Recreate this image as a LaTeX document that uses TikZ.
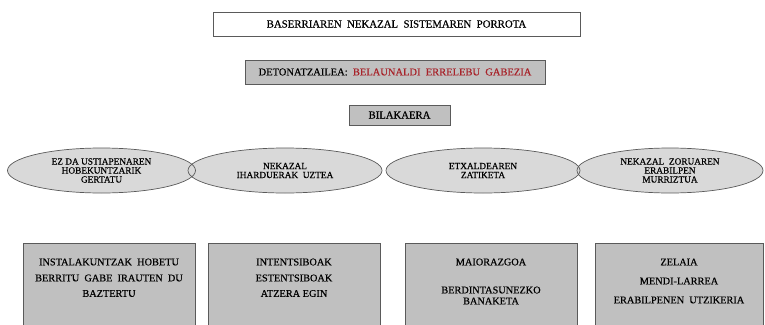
\documentclass[tikz,border=0pt]{standalone}
\usepackage{fontspec}
\setmainfont{Liberation Serif}
\newfontfamily\heavy{Liberation Serif}[FakeBold=0.5]
\usetikzlibrary{shapes.geometric}
\definecolor{boxgray}{HTML}{C0C0C0}
\definecolor{ellgray}{HTML}{D9D9D9}
\definecolor{edgegray}{HTML}{5A5A5A}
\definecolor{detred}{HTML}{A8232A}
\begin{document}
\begin{tikzpicture}[x=1pt,y=-1pt,
  topbox/.style={draw=edgegray,line width=0.8pt,minimum height=24pt,inner sep=0pt,font=\heavy\fontsize{10.8}{12}\selectfont},
  graybox/.style={draw=edgegray,fill=boxgray,line width=0.8pt,inner sep=0pt},
  ell/.style={ellipse,draw=edgegray,line width=0.7pt,inner sep=0pt,align=center,font=\heavy\fontsize{9.3}{9}\selectfont},
  btxt/.style={align=center,font=\heavy\fontsize{10.3}{11}\selectfont,inner sep=0pt}]
\clip (0,0) rectangle (765,324);
\fill[white] (0,0) rectangle (765,324);
% title
\node[topbox,fill=white,minimum width=367pt] (title) at (396.5,24)
  {BASERRIAREN\ \ NEKAZAL\ \ SISTEMAREN\ \ PORROTA};
\node[graybox,minimum width=300pt,minimum height=24pt,font=\heavy\fontsize{10.5}{12}\selectfont] (det) at (395,72)
  {DETONATZAILEA:\ \ \textcolor{detred}{BELAUNALDI\ \ ERRELEBU\ \ GABEZIA}};
\node[graybox,minimum width=101pt,minimum height=20pt,font=\heavy\fontsize{10.7}{12}\selectfont] (bil) at (399.5,115) {BILAKAERA};
% ellipse fills
\fill[ellgray] (101.5,170.5) ellipse [x radius=94, y radius=22.5];
\fill[ellgray] (285,170.5) ellipse [x radius=97, y radius=22.5];
\fill[ellgray] (483,170.5) ellipse [x radius=97, y radius=22.5];
\fill[ellgray] (670,170.5) ellipse [x radius=93, y radius=22.5];
\node[ell,minimum width=188pt,minimum height=45pt] (e1) at (101.5,170.5)
  {EZ DA USTIAPENAREN\\HOBEKUNTZARIK\\GERTATU};
\node[ell,minimum width=194pt,minimum height=45pt] (e2) at (285,170.5)
  {NEKAZAL\\IHARDUERAK\ \ UZTEA};
\node[ell,minimum width=194pt,minimum height=45pt] (e3) at (483,170.5)
  {ETXALDEAREN\\ZATIKETA};
\node[ell,minimum width=186pt,minimum height=45pt] (e4) at (670,170.5)
  {NEKAZAL\ \ ZORUAREN\\ERABILPEN\\MURRIZTUA};
% bottom boxes
\node[graybox,minimum width=172pt,minimum height=84pt,anchor=north west] (b1) at (23,243) {};
\node[graybox,minimum width=172pt,minimum height=84pt,anchor=north west] (b2) at (208,243) {};
\node[graybox,minimum width=172pt,minimum height=84pt,anchor=north west] (b3) at (405,243) {};
\node[graybox,minimum width=168pt,minimum height=84pt,anchor=north west] (b4) at (595,243) {};
\node[btxt] (t1a) at (109,262) {INSTALAKUNTZAK\ \ HOBETU};
\node[btxt] (t1b) at (109,278) {BERRITU\ \ GABE\ \ IRAUTEN\ \ DU};
\node[btxt] (t1c) at (109,293.5) {BAZTERTU};
\node[btxt] (t2a) at (294,262) {INTENTSIBOAK};
\node[btxt] (t2b) at (294,278) {ESTENTSIBOAK};
\node[btxt] (t2c) at (294,293.5) {ATZERA EGIN};
\node[btxt] (t3a) at (491,262) {MAIORAZGOA};
\node[btxt] (t3b) at (491,295.5) {BERDINTASUNEZKO\\BANAKETA};
\node[btxt] (t4a) at (679,262) {ZELAIA};
\node[btxt] (t4b) at (679,281) {MENDI-LARREA};
\node[btxt] (t4c) at (679,300) {ERABILPENEN\ \ UTZIKERIA};
\end{tikzpicture}
\end{document}
